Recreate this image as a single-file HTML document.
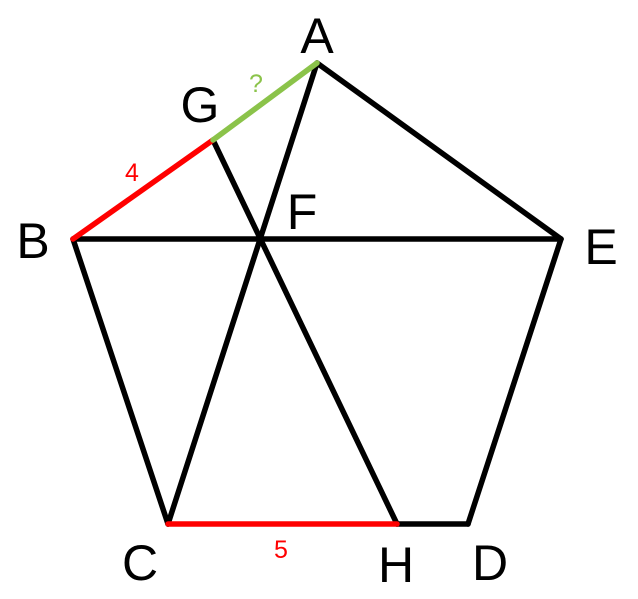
<!DOCTYPE html>
<html><head><meta charset="utf-8"><style>
html,body{margin:0;padding:0;background:#fff;}
svg{display:block;}
text{font-family:"Liberation Sans",sans-serif;}
</style></head><body>
<svg width="638" height="599" viewBox="0 0 638 599" xmlns="http://www.w3.org/2000/svg">
<g stroke-width="5.5" stroke-linecap="round" fill="none">
<line x1="317" y1="63" x2="561" y2="239" stroke="#000"/>
<line x1="561" y1="239" x2="468" y2="524" stroke="#000"/>
<line x1="468" y1="524" x2="397" y2="524" stroke="#000"/>
<line x1="73" y1="239" x2="168" y2="524" stroke="#000"/>
<line x1="73" y1="239" x2="561" y2="239" stroke="#000"/>
<line x1="317" y1="63" x2="168" y2="524" stroke="#000"/>
<line x1="213" y1="140" x2="397" y2="524" stroke="#000"/>
<line x1="73" y1="239" x2="213" y2="140" stroke="#f00"/>
<line x1="213" y1="140" x2="317" y2="63" stroke="#8bc34a"/>
<line x1="168" y1="524" x2="397" y2="524" stroke="#f00"/>
</g>
<g font-size="50" fill="#000" text-anchor="middle">
<text x="317" y="53">A</text>
<text x="200" y="122">G</text>
<text x="33" y="258">B</text>
<text x="302" y="229">F</text>
<text x="601" y="264">E</text>
<text x="140" y="580">C</text>
<text x="396" y="582">H</text>
<text x="490" y="580">D</text>
</g>
<text x="256" y="92" font-size="25" fill="#8bc34a" text-anchor="middle">?</text>
<text x="132" y="181" font-size="25" fill="#f00" text-anchor="middle">4</text>
<text x="281" y="558" font-size="25" fill="#f00" text-anchor="middle">5</text>
</svg>
</body></html>
